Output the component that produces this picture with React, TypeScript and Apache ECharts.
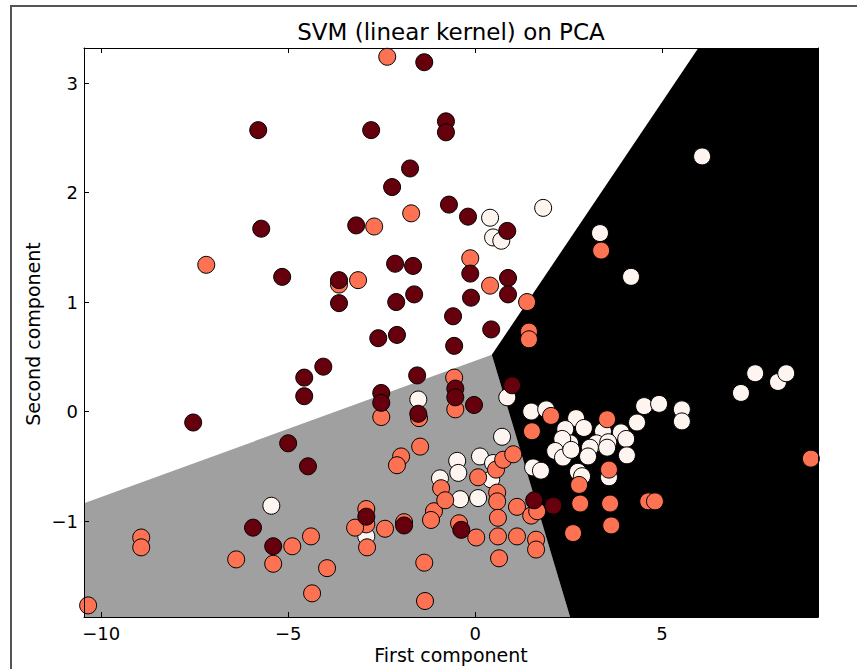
import React, { useEffect, useRef } from "react";
import * as echarts from "echarts";

// Axis extents (data units)
const X_MIN = -10.46;
const X_MAX = 9.17;
const Y_MIN = -1.876;
const Y_MAX = 3.32;

const TITLE = "SVM (linear kernel) on PCA";
const X_NAME = "First component";
const Y_NAME = "Second component";

// Decision regions (data-space vertices)
const GRAY_REGION: number[][] = [
  [X_MIN, -0.837],
  [0.447, 0.518],
  [2.54, Y_MIN],
  [X_MIN, Y_MIN],
];
const BLACK_REGION: number[][] = [
  [5.97, Y_MAX],
  [X_MAX, Y_MAX],
  [X_MAX, Y_MIN],
  [2.54, Y_MIN],
  [0.447, 0.518],
];
const REGIONS = [GRAY_REGION, BLACK_REGION];
const REGION_COLORS = ["#a0a0a0", "#000000"];

// Class 0 (lightest)
const class0: number[][] = [
  [6.07, 2.33], [1.82, 1.86], [0.4, 1.77], [0.48, 1.59], [0.7, 1.56],
  [3.34, 1.63], [4.17, 1.23], [-1.52, 0.11], [0.86, 0.13], [1.5, 0.0],
  [1.9, 0.02], [0.72, -0.23], [-5.45, -0.86], [-2.91, -1.14], [-0.48, -0.45],
  [-0.45, -0.56], [0.13, -0.41], [0.48, -0.47], [0.43, -0.62], [-0.94, -0.61],
  [-0.4, -0.8], [0.08, -0.79], [2.7, -0.06], [2.41, -0.16], [2.91, -0.15],
  [3.42, -0.18], [3.9, -0.19], [4.52, 0.05], [4.92, 0.07], [4.33, -0.1],
  [4.04, -0.25], [4.06, -0.4], [3.24, -0.29], [3.56, -0.28], [3.07, -0.33],
  [3.02, -0.41], [2.54, -0.29], [2.33, -0.25], [2.14, -0.36], [2.35, -0.42],
  [2.57, -0.35], [3.53, -0.33], [5.53, 0.02], [5.53, -0.09], [7.11, 0.17],
  [7.49, 0.35], [8.1, 0.27], [8.32, 0.35], [1.55, -0.51], [1.76, -0.54],
  [2.75, -0.55], [2.86, -0.59], [3.58, -0.6],
];

// Class 1 (middle)
const class1: number[][] = [
  [-2.35, 3.24], [-1.71, 1.81], [-2.7, 1.69], [-7.19, 1.34], [-3.64, 1.16],
  [-3.13, 1.2], [-0.13, 1.4], [0.4, 1.15], [1.39, 1.0], [1.44, 0.73],
  [1.44, 0.66], [3.37, 1.47], [-0.56, 0.31], [-0.53, 0.02], [-2.51, -0.05],
  [-1.5, -0.06], [-1.47, -0.32], [-1.98, -0.41], [-2.09, -0.49], [-8.93, -1.15],
  [-8.93, -1.24], [-6.39, -1.35], [-5.4, -1.39], [-4.89, -1.23], [-4.39, -1.14],
  [-3.96, -1.43], [-4.36, -1.66], [-10.35, -1.77], [-2.91, -0.89], [-2.91, -1.03],
  [-2.89, -1.24], [-3.21, -1.06], [-2.41, -1.07], [-1.9, -1.01], [-1.1, -0.91],
  [-1.18, -0.99], [-1.36, -1.38], [-1.34, -1.73], [-0.91, -0.7], [-0.8, -0.81],
  [0.08, -0.6], [0.56, -0.53], [0.75, -0.44], [1.02, -0.39], [0.59, -0.74],
  [0.59, -0.82], [-0.43, -1.02], [0.03, -1.15], [0.61, -0.97], [0.61, -1.14],
  [1.12, -1.14], [1.12, -0.87], [1.5, -0.95], [1.66, -0.91], [1.63, -1.17],
  [1.63, -1.26], [0.64, -1.34], [1.52, -0.18], [2.03, -0.04], [3.53, -0.07],
  [3.58, -0.53], [2.78, -0.67], [2.81, -0.84], [3.61, -0.84], [4.63, -0.82],
  [4.81, -0.82], [3.64, -1.04], [2.62, -1.11], [8.98, -0.43],
];

// Class 2 (darkest)
const class2: number[][] = [
  [-1.36, 3.19], [-5.8, 2.57], [-2.78, 2.57], [-0.78, 2.65], [-0.78, 2.55],
  [-1.74, 2.22], [-2.22, 2.05], [-5.72, 1.67], [-3.18, 1.7], [-0.7, 1.89],
  [-0.19, 1.78], [0.86, 1.65], [-5.16, 1.23], [-3.64, 1.2], [-3.64, 0.99],
  [-2.14, 1.35], [-1.66, 1.33], [-2.11, 1.0], [-1.63, 1.07], [-0.13, 1.26],
  [0.88, 1.22], [-0.11, 1.04], [0.88, 1.07], [-0.59, 0.87], [0.43, 0.75],
  [-2.59, 0.67], [-2.09, 0.7], [-0.56, 0.6], [-4.06, 0.41], [-1.55, 0.33],
  [-4.57, 0.31], [-4.57, 0.14], [-0.53, 0.21], [-0.53, 0.13], [-2.51, 0.17],
  [-2.51, 0.08], [-1.52, -0.02], [-0.03, 0.06], [0.99, 0.24], [-7.54, -0.1],
  [-5.0, -0.29], [-4.47, -0.5], [-5.94, -1.06], [-5.4, -1.23], [-2.91, -0.96],
  [-1.9, -1.04], [-0.37, -1.08], [1.58, -0.81], [2.09, -0.86],
];

const CLASS_COLORS = ["#fff5f0", "#fc7252", "#67000d"];

const FONT = "DejaVu Sans";

function tickFmt(v: number): string {
  const r = Math.round(v);
  if (Math.abs(v - r) > 1e-6) return "";
  return r < 0 ? "\u2212" + Math.abs(r) : String(r);
}

export default function App() {
  const ref = useRef<HTMLDivElement>(null);

  useEffect(() => {
    if (!ref.current) return;
    const chart = echarts.init(ref.current, null, { renderer: "svg" });

    const axisCommon = {
      type: "value" as const,
      z: 10,
      axisLine: { show: true, onZero: false, lineStyle: { color: "#000", width: 1 } },
      axisTick: { show: true, inside: true, length: 5, lineStyle: { color: "#000", width: 1 } },
      splitLine: { show: false },
    };

    const scatter = (data: number[][], color: string) => ({
      type: "scatter",
      data,
      symbol: "circle",
      symbolSize: 17,
      z: 3,
      itemStyle: { color, borderColor: "#000", borderWidth: 1, opacity: 1 },
      emphasis: { disabled: true },
      silent: true,
    });

    chart.setOption({
      animation: false,
      backgroundColor: "#fff",
      grid: { left: 84, top: 48, width: 734, height: 569, containLabel: false },
      xAxis: [
        {
          ...axisCommon,
          position: "bottom",
          min: X_MIN,
          max: X_MAX,
          minInterval: 5,
          maxInterval: 5,
          axisLabel: { formatter: tickFmt, fontSize: 18, color: "#000", margin: 7, fontFamily: FONT },
        },
        {
          ...axisCommon,
          position: "top",
          min: X_MIN,
          max: X_MAX,
          minInterval: 5,
          maxInterval: 5,
          axisLabel: { show: false },
        },
      ],
      yAxis: [
        {
          ...axisCommon,
          position: "left",
          min: Y_MIN,
          max: Y_MAX,
          minInterval: 1,
          maxInterval: 1,
          axisLabel: { formatter: tickFmt, fontSize: 18, color: "#000", margin: 6, fontFamily: FONT },
        },
        {
          ...axisCommon,
          position: "right",
          min: Y_MIN,
          max: Y_MAX,
          minInterval: 1,
          maxInterval: 1,
          axisLabel: { show: false },
        },
      ],
      graphic: [
        {
          type: "polyline",
          shape: { points: [[11, 669], [11, 6], [857, 6]] },
          style: { stroke: "#555", lineWidth: 2, fill: "none" },
          silent: true,
        },
        {
          type: "text",
          x: 451,
          y: 32,
          style: {
            text: TITLE,
            fontSize: 23,
            fontFamily: FONT,
            fill: "#000",
            textAlign: "center",
            textVerticalAlign: "middle",
          },
        },
        {
          type: "text",
          x: 451,
          y: 655,
          style: {
            text: X_NAME,
            fontSize: 19,
            fontFamily: FONT,
            fill: "#000",
            textAlign: "center",
            textVerticalAlign: "middle",
          },
        },
        {
          type: "text",
          x: 33,
          y: 334,
          rotation: Math.PI / 2,
          style: {
            text: Y_NAME,
            fontSize: 19,
            fontFamily: FONT,
            fill: "#000",
            textAlign: "center",
            textVerticalAlign: "middle",
          },
        },
      ],
      series: [
        {
          type: "custom",
          z: 1,
          silent: true,
          clip: true,
          data: REGIONS.map((r) => r[0]),
          renderItem: (params: any, api: any) => {
            const poly = REGIONS[params.dataIndex];
            return {
              type: "polygon",
              shape: { points: poly.map((p) => api.coord(p)) },
              style: { fill: REGION_COLORS[params.dataIndex], stroke: null },
            };
          },
        },
        scatter(class0, CLASS_COLORS[0]),
        scatter(class1, CLASS_COLORS[1]),
        scatter(class2, CLASS_COLORS[2]),
      ],
    });

    return () => chart.dispose();
  }, []);

  return (
    <div
      ref={ref}
      style={{ position: "fixed", left: 0, top: 0, width: 857, height: 669 }}
    />
  );
}
